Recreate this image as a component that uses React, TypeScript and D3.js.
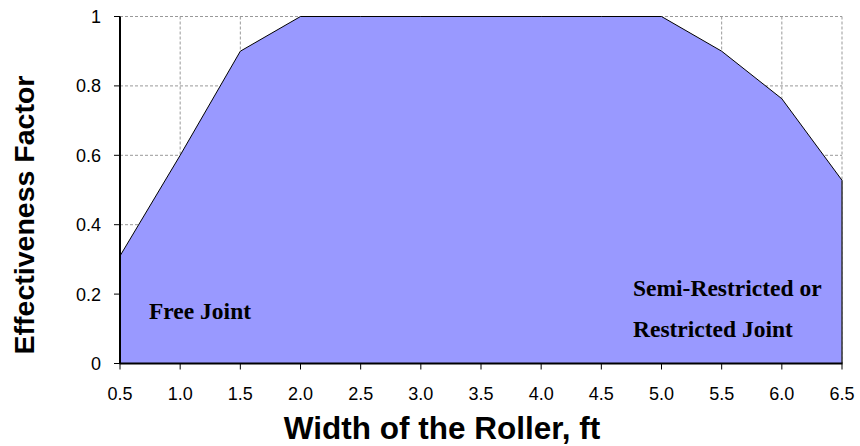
import React from "react";
import * as d3 from "d3";

const widths = [0.5, 1.0, 1.5, 2.0, 2.5, 3.0, 3.5, 4.0, 4.5, 5.0, 5.5, 6.0, 6.5];
const factors = [0.31, 0.6, 0.9, 1.0, 1.0, 1.0, 1.0, 1.0, 1.0, 1.0, 0.9, 0.763, 0.528];
const xTicks = [0.5, 1.0, 1.5, 2.0, 2.5, 3.0, 3.5, 4.0, 4.5, 5.0, 5.5, 6.0, 6.5];
const yTicks = [0, 0.2, 0.4, 0.6, 0.8, 1];

export default function App() {
  const W = 860, H = 446;
  const left = 120, right = 842, top = 16.5, bottom = 363.5;
  const x = d3.scaleLinear().domain([0.5, 6.5]).range([left, right]);
  const y = d3.scaleLinear().domain([0, 1]).range([bottom, top]);
  const pts = widths.map((w, i) => [w, factors[i]] as [number, number]);
  const area = d3.area<[number, number]>().x(d => x(d[0])).y0(y(0)).y1(d => y(d[1]))(pts) || "";
  const line = d3.line<[number, number]>().x(d => x(d[0])).y(d => y(d[1]))(pts) || "";
  const serif = "'Liberation Serif', 'Times New Roman', serif";
  return (
    <svg width={W} height={H} style={{ position: "absolute", left: 0, top: 0 }} fontFamily="Arial, 'Liberation Sans', sans-serif">
      <rect x={0} y={0} width={W} height={H} fill="#fff" />
      {xTicks.map(t => (
        <line key={"gx" + t} x1={x(t)} x2={x(t)} y1={top} y2={bottom} stroke="#999" strokeDasharray="3,2" strokeWidth={1} />
      ))}
      {yTicks.map(t => (
        <line key={"gy" + t} x1={left} x2={right} y1={y(t)} y2={y(t)} stroke="#999" strokeDasharray="3,2" strokeWidth={1} />
      ))}
      <path d={area} fill="#9999FF" />
      <path d={line} fill="none" stroke="#000" strokeWidth={1} />
      <line x1={right} x2={right} y1={y(factors[factors.length - 1])} y2={bottom} stroke="#333" strokeWidth={1.5} />
      <line x1={left} x2={left} y1={top} y2={bottom + 0.5} stroke="#000" strokeWidth={2} />
      <line x1={left - 0.5} x2={right + 0.5} y1={bottom} y2={bottom} stroke="#000" strokeWidth={2} />
      {yTicks.map(t => (
        <g key={"ty" + t}>
          <line x1={left - 6} x2={left} y1={y(t)} y2={y(t)} stroke="#000" strokeWidth={1} />
          <text x={left - 19} y={y(t) + 6.5} fontSize={18} textAnchor="end">{d3.format("")(t)}</text>
        </g>
      ))}
      {xTicks.map(t => (
        <g key={"tx" + t}>
          <line x1={x(t)} x2={x(t)} y1={bottom} y2={bottom + 6} stroke="#000" strokeWidth={1} />
          <text x={x(t)} y={400} fontSize={18} textAnchor="middle">{d3.format(".1f")(t)}</text>
        </g>
      ))}
      <text x={442} y={439} fontSize={31.5} fontWeight="bold" textAnchor="middle">Width of the Roller, ft</text>
      <text transform={`translate(34,215) rotate(-90)`} fontSize={28.5} fontWeight="bold" textAnchor="middle">Effectiveness Factor</text>
      <text x={149} y={319} fontSize={23.5} fontWeight="bold" fontFamily={serif}>Free Joint</text>
      <text x={633} y={296} fontSize={23.5} fontWeight="bold" fontFamily={serif}>Semi-Restricted or</text>
      <text x={633} y={337} fontSize={23.5} fontWeight="bold" fontFamily={serif}>Restricted Joint</text>
    </svg>
  );
}
